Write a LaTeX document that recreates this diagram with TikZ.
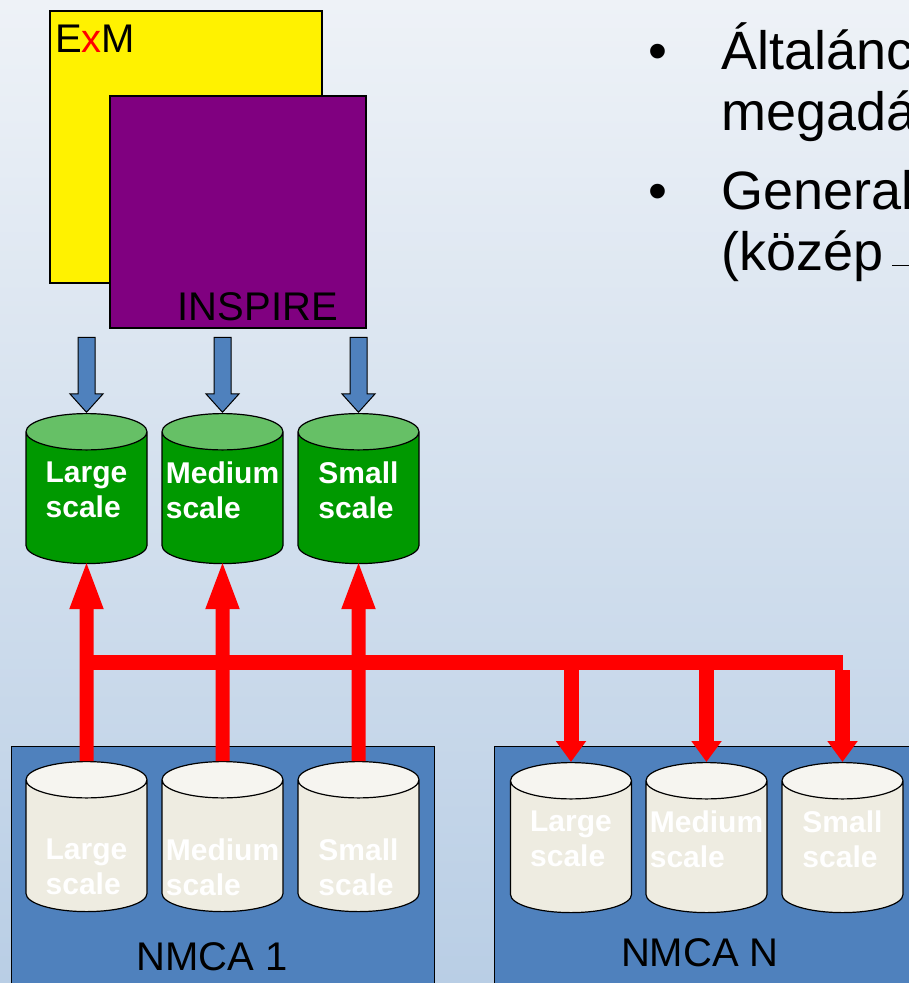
\documentclass[tikz,border=0pt]{standalone}
\usepackage{fontspec}
\setmainfont{Liberation Sans}
\usepackage{xcolor}
\usepackage{tikz}
\usetikzlibrary{shapes.geometric, shapes.arrows, arrows.meta}

\definecolor{bgtop}{HTML}{EEF2F7}
\definecolor{bgmid}{HTML}{D3DFEC}
\definecolor{bgbot}{HTML}{B9CEE5}
\definecolor{boxpurple}{HTML}{800080}
\definecolor{arrowblue}{HTML}{4F81BD}
\definecolor{nmcablue}{HTML}{4F81BD}
\definecolor{dbgreen}{HTML}{009900}
\definecolor{dbgreentop}{HTML}{66C066}
\definecolor{dbgrey}{HTML}{EEECE1}
\definecolor{dbgreytop}{HTML}{F6F5F0}

\begin{document}
\begin{tikzpicture}[x=1pt, y=-1pt,
        db/.style={cylinder, shape border rotate=90, aspect=0.3, draw=black, line width=1.2pt,
            minimum width=121pt, minimum height=150pt, text width=121pt, inner sep=0pt,
            cylinder uses custom fill, anchor=north},
        greendb/.style={db, cylinder body fill=dbgreen, cylinder end fill=dbgreentop},
        greydb/.style={db, cylinder body fill=dbgrey, cylinder end fill=dbgreytop},
        dbtext/.style={align=left, inner sep=0pt, text=white, font=\bfseries\fontsize{30}{35}\selectfont},
        bluearr/.style={single arrow, draw=black, line width=1pt, fill=arrowblue,
            minimum height=75pt, inner xsep=0pt, inner ysep=8pt, single arrow head extend=8pt,
            single arrow tip angle=84, rotate=-90, anchor=tip},
        upred/.style={draw=red, line width=14pt, shorten >=-5pt, -{Triangle[width=30pt,length=50pt]}},
        downred/.style={draw=red, line width=15pt, -{Triangle[width=29pt,length=21pt]}},
        bigtext/.style={font=\fontsize{40}{48}\selectfont},
        pointtext/.style={font=\fontsize{54}{62}\selectfont}]
        \useasboundingbox (0,0) rectangle (909,983);
        \clip (0,0) rectangle (909,983);
        \shade[top color=bgtop, middle color=bgmid, bottom color=bgbot] (0,0) rectangle (909,983);

        % ExM and INSPIRE
        \node[draw=black, line width=1.5pt, fill=yellow, minimum width=272pt, minimum height=272pt,
            anchor=north west] (exm) at (49,10) {};
        \node[bigtext, anchor=base west, inner sep=0pt] (exmlbl) at (55,52) {E\textcolor{red}{x}M};
        \node[draw=black, line width=1.5pt, fill=boxpurple, minimum width=256pt, minimum height=232pt,
            anchor=north west] (insp) at (109,95) {};
        \node[bigtext, anchor=base east, inner sep=0pt] (insplbl) at (338,320) {INSPIRE};

        % bullets
        \node[pointtext, anchor=base] (b1) at (658,69) {•};
        \node[pointtext, anchor=base west, inner sep=0pt] (t1) at (721,69) {Általánc};
        \node[pointtext, anchor=base west, inner sep=0pt] (t2) at (721,130) {megadá};
        \node[pointtext, anchor=base] (b2) at (658,209) {•};
        \node[pointtext, anchor=base west, inner sep=0pt] (t3) at (721,209) {General};
        \node[pointtext, anchor=base west, inner sep=0pt] (t4) at (721,270) {(közép\,\rule[4pt]{30pt}{1.5pt}};

        % NMCA boxes
        \node[draw=black, line width=1.2pt, fill=nmcablue, minimum width=423pt, minimum height=260pt,
            anchor=north west] (nmca1) at (11,746) {};
        \node[bigtext, anchor=base] (nmca1lbl) at (212,970) {NMCA 1};
        \node[draw=black, line width=1.2pt, fill=nmcablue, minimum width=430pt, minimum height=260pt,
            anchor=north west] (nmcan) at (494,746) {};
        \node[bigtext, anchor=base] (nmcanlbl) at (700,966) {NMCA N};

        % databases
        \node[greendb] (g1) at (86.5,413) {};
        \node[greendb] (g2) at (222.5,413) {};
        \node[greendb] (g3) at (358.5,413) {};
        \node[dbtext] (g1txt) at (86.5,490) {Large\\scale};
        \node[dbtext] (g2txt) at (222.5,490) {Medium\\scale};
        \node[dbtext] (g3txt) at (358.5,490) {Small\\scale};
        \node[greydb] (l1) at (86.5,761) {};
        \node[greydb] (l2) at (222.5,761) {};
        \node[greydb] (l3) at (358.5,761) {};
        \node[dbtext] (l1txt) at (86.5,867) {Large\\scale};
        \node[dbtext] (l2txt) at (222.5,867) {Medium\\scale};
        \node[dbtext] (l3txt) at (358.5,867) {Small\\scale};
        \node[greydb] (n1) at (571,762) {};
        \node[greydb] (n2) at (706.5,762) {};
        \node[greydb] (n3) at (842.5,762) {};
        \node[dbtext] (n1txt) at (571,839) {Large\\scale};
        \node[dbtext] (n2txt) at (706.5,839) {Medium\\scale};
        \node[dbtext] (n3txt) at (842.5,839) {Small\\scale};

        % blue arrows
        \node[bluearr] (a1) at (g1.north) {};
        \node[bluearr] (a2) at (g2.north) {};
        \node[bluearr] (a3) at (g3.north) {};

        % red connectors
        \coordinate (bus) at (0,662.5);
        \draw[upred] (l1.north) -- (g1.south);
        \draw[upred] (l2.north) -- (g2.south);
        \draw[upred] (l3.north) -- (g3.south);
        \draw[red, line width=15pt] (l1.north |- bus) -- (843,662.5);
        \draw[downred] (n1.north |- bus) -- (n1.north);
        \draw[downred] (n2.north |- bus) -- (n2.north);
        \draw[downred] (n3.north |- 0,670) -- (n3.north);
\end{tikzpicture}
\end{document}
